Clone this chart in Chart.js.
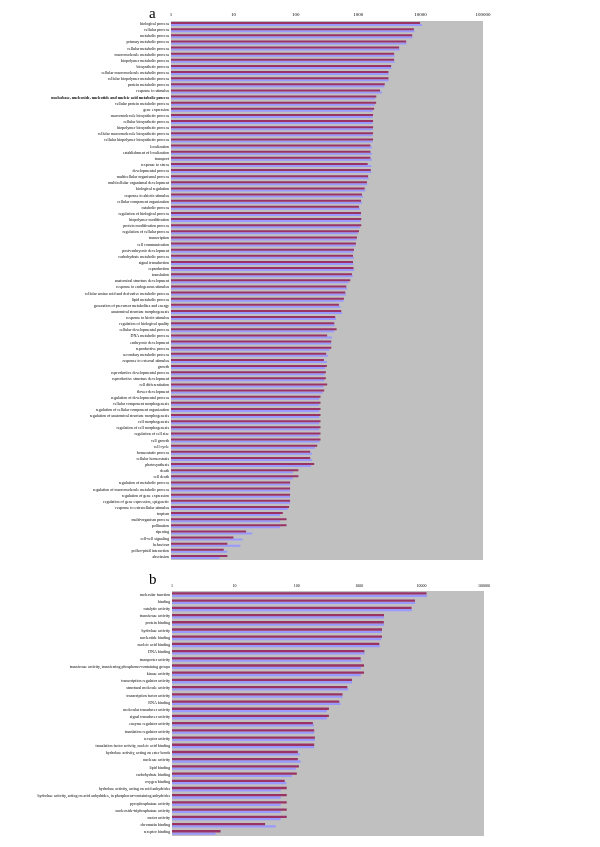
<!DOCTYPE html>
<html>
<head>
<meta charset="utf-8">
<script src="https://cdn.jsdelivr.net/npm/chart.js@4/dist/chart.umd.min.js"></script>
<style>
  html, body { margin: 0; padding: 0; background: #ffffff; }
  body { width: 600px; height: 847px; position: relative; overflow: hidden; font-family: "Liberation Serif", "DejaVu Serif", serif; }
  .box { position: absolute; left: 0; width: 600px; z-index: 1; }
  #boxA { top: 0; height: 570px; }
  #boxB { top: 570px; height: 277px; }
  .panel { position: absolute; font-size: 15px; line-height: 15px; color: #000; font-family: "Liberation Serif", serif; z-index: 5; }
</style>
</head>
<body>
<div class="box" id="boxA"><canvas id="chartA"></canvas></div>
<div class="box" id="boxB"><canvas id="chartB"></canvas></div>
<div class="panel" style="left:149px; top:6px;">a</div>
<div class="panel" style="left:149px; top:572px;">b</div>
<script>
const tickValues = [1, 10, 100, 1000, 10000, 100000];

const catA = [
  "biological process","cellular process","metabolic process","primary metabolic process",
  "cellular metabolic process","macromolecule metabolic process","biopolymer metabolic process",
  "biosynthetic process","cellular macromolecule metabolic process","cellular biopolymer metabolic process",
  "protein metabolic process","response to stimulus",
  "nucleobase, nucleoside, nucleotide and nucleic acid metabolic process",
  "cellular protein metabolic process","gene expression","macromolecule biosynthetic process",
  "cellular biosynthetic process","biopolymer biosynthetic process","cellular macromolecule biosynthetic process",
  "cellular biopolymer biosynthetic process","localization","establishment of localization","transport",
  "response to stress","developmental process","multicellular organismal process",
  "multicellular organismal development","biological regulation","response to abiotic stimulus",
  "cellular component organization","catabolic process","regulation of biological process",
  "biopolymer modification","protein modification process","regulation of cellular process",
  "transcription","cell communication","post-embryonic development","carbohydrate metabolic process",
  "signal transduction","reproduction","translation","anatomical structure development",
  "response to endogenous stimulus","cellular amino acid and derivative metabolic process",
  "lipid metabolic process","generation of precursor metabolites and energy",
  "anatomical structure morphogenesis","response to biotic stimulus","regulation of biological quality",
  "cellular developmental process","DNA metabolic process","embryonic development","reproductive process",
  "secondary metabolic process","response to external stimulus","growth",
  "reproductive developmental process","reproductive structure development","cell differentiation",
  "flower development","regulation of developmental process","cellular component morphogenesis",
  "regulation of cellular component organization","regulation of anatomical structure morphogenesis",
  "cell morphogenesis","regulation of cell morphogenesis","regulation of cell size","cell growth",
  "cell cycle","homeostatic process","cellular homeostasis","photosynthesis","death","cell death",
  "regulation of metabolic process","regulation of macromolecule metabolic process",
  "regulation of gene expression","regulation of gene expression, epigenetic",
  "response to extracellular stimulus","tropism","multi-organism process","pollination","ripening",
  "cell-cell signaling","behaviour","pollen-pistil interaction","abscission"
];
const aRed = [
  9800,7800,7330,5870,4530,3760,3760,3370,3050,3050,
  2660,2240,1950,1940,1800,1730,1730,1730,1730,1730,
  1570,1570,1570,1420,1590,1440,1380,1270,1150,1110,
  1030,1110,1120,1120,1030,955,920,855,825,825,
  840,795,747,644,621,590,491,535,428,413,
  450,318,370,370,307,282,315,303,303,318,
  285,249,249,249,249,249,249,249,249,220,
  170,170,197,110,110,81,81,81,81,78,
  62,71,71,16,10,8,7,8
];
const aBlue = [
  10500,7950,7400,5950,4600,3820,3820,3400,3080,3080,
  2620,2410,1880,1840,1700,1700,1700,1700,1700,1700,
  1660,1660,1660,1620,1620,1470,1400,1300,1190,1150,
  1060,1100,1090,1060,980,940,905,840,850,835,
  860,820,700,665,640,580,515,550,440,420,
  413,379,370,347,327,315,297,290,285,278,
  268,237,237,237,237,237,237,237,240,204,
  181,181,176,90,90,81,81,81,81,74,
  56,56,56,20,14,13,8,6
];

const catB = [
  "molecular function","binding","catalytic activity","transferase activity","protein binding",
  "hydrolase activity","nucleotide binding","nucleic acid binding","DNA binding","transporter activity",
  "transferase activity, transferring phosphorus-containing groups","kinase activity",
  "transcription regulator activity","structural molecule activity","transcription factor activity",
  "RNA binding","molecular transducer activity","signal transducer activity","enzyme regulator activity",
  "translation regulator activity","receptor activity","translation factor activity, nucleic acid binding",
  "hydrolase activity, acting on ester bonds","nuclease activity","lipid binding","carbohydrate binding",
  "oxygen binding","hydrolase activity, acting on acid anhydrides",
  "hydrolase activity, acting on acid anhydrides, in phosphorus-containing anhydrides",
  "pyrophosphatase activity","nucleoside-triphosphatase activity","motor activity",
  "chromatin binding","receptor binding"
];
const bRed = [
  12000,7830,6900,2500,2480,2320,2320,2100,1210,1055,
  1195,1195,766,644,541,479,327,327,181,190,
  195,190,104,104,108,100,64,69,69,69,
  69,69,31,6
];
const bBlue = [
  12200,7900,7000,2500,2500,2300,2250,2150,1230,1080,
  1060,1060,766,670,541,503,303,303,188,190,
  195,190,112,115,97,83,68,55,55,55,
  55,55,46,5
];

const RED = '#993366';
const BLUE = '#9999FF';
const GRAY = '#C0C0C0';

const bgPlugin = {
  id: 'plotBg',
  beforeDraw(chart) {
    const a = chart.chartArea;
    const ctx = chart.ctx;
    ctx.save();
    ctx.fillStyle = GRAY;
    ctx.fillRect(a.left, a.top, a.right - a.left, a.bottom - a.top);
    ctx.restore();
  }
};

function makeChart(id, labels, red, blue, opts) {
  return new Chart(document.getElementById(id), {
    type: 'bar',
    data: {
      labels: labels,
      datasets: [
        { data: red, backgroundColor: RED, borderWidth: 0, categoryPercentage: 0.64, barPercentage: 1.0 },
        { data: blue, backgroundColor: BLUE, borderWidth: 0, categoryPercentage: 0.64, barPercentage: 1.0 }
      ]
    },
    options: {
      indexAxis: 'y',
      responsive: true,
      maintainAspectRatio: false,
      animation: false,
      layout: { padding: { left: 0, right: opts.padRight, top: 0, bottom: opts.padBottom } },
      plugins: { legend: { display: false }, tooltip: { enabled: false } },
      scales: {
        x: {
          type: 'logarithmic',
          position: 'top',
          min: 1,
          max: 100000,
          grid: { display: false, drawTicks: false, tickLength: 0 },
          border: { display: false },
          afterBuildTicks: (s) => { s.ticks = tickValues.map(v => ({ value: v })); },
          afterFit: (s) => { s.height = opts.xHeight; },
          ticks: {
            autoSkip: false,
            maxRotation: 0,
            padding: opts.xPad,
            color: '#000',
            font: { family: 'Liberation Serif', size: opts.xFont },
            callback: (v) => String(v)
          }
        },
        y: {
          grid: { display: false, drawTicks: false, tickLength: 0 },
          border: { display: false },
          afterFit: (s) => { s.width = opts.yWidth; },
          ticks: {
            autoSkip: false,
            padding: 2,
            color: '#000',
            font: (ctx) => ({
              family: 'Liberation Serif',
              size: opts.yFont,
              weight: (opts.boldIndex === ctx.index) ? 'bold' : 'normal'
            })
          }
        }
      }
    },
    plugins: [bgPlugin]
  });
}

makeChart('chartA', catA, aRed, aBlue, { padRight: 117, padBottom: 10, xHeight: 21, xPad: 3, yWidth: 171, xFont: 5, yFont: 4, boldIndex: 12 });
makeChart('chartB', catB, bRed, bBlue, { padRight: 116, padBottom: 11, xHeight: 21, xPad: 3, yWidth: 172, xFont: 4, yFont: 4, boldIndex: -1 });
</script>
</body>
</html>
